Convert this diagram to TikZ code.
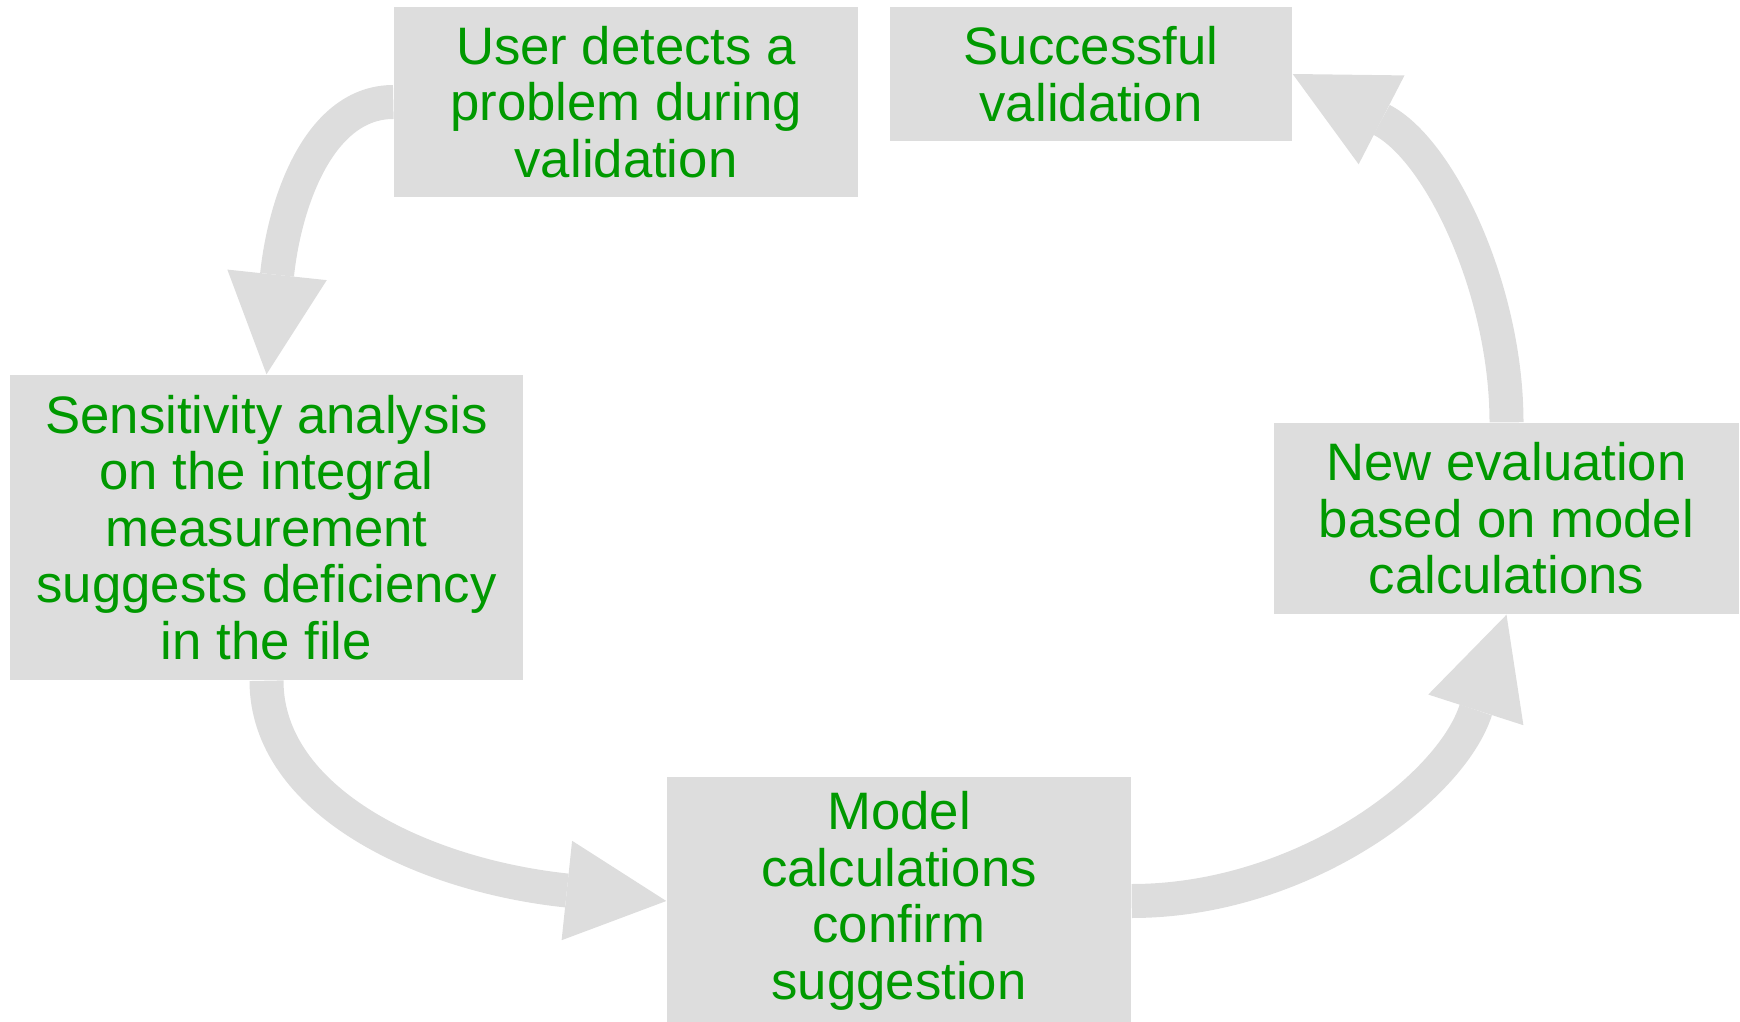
\documentclass[tikz,border=0pt]{standalone}
\usepackage{fontspec}
\setmainfont{Liberation Sans}
\usetikzlibrary{arrows.meta}
\definecolor{boxgrey}{HTML}{DDDDDD}
\definecolor{stepgreen}{HTML}{009900}

\begin{document}
\begin{tikzpicture}[
  box/.style={fill=boxgrey, text=stepgreen, align=center, inner sep=0pt,
    font=\fontsize{15}{16.1}\selectfont},
  flow/.style={draw=boxgrey, line width=3.4mm,
    -{Triangle[length=10mm, width=10mm, line width=0pt]}}
]
\useasboundingbox (0,0) rectangle (17.4,10.21);

% Steps of the loop
\node[box, minimum width=4.64cm, minimum height=1.90cm] (problem) at (6.26,9.19)
{User detects a\\problem during\\validation};

\node[box, minimum width=4.02cm, minimum height=1.34cm] (success) at (10.91,9.47)
{Successful\\validation};

\node[box, minimum width=5.13cm, minimum height=3.05cm] (sens) at (2.665,4.935)
{Sensitivity analysis\\on the integral\\measurement\\suggests deficiency\\in the file};

\node[box, minimum width=4.64cm, minimum height=2.48cm] (model) at (8.99,1.20)
{Model\\calculations\\confirm\\suggestion};

\node[box, minimum width=4.65cm, minimum height=1.91cm] (neweval) at (15.065,5.025)
{New evaluation\\based on model\\calculations};

% Arrows between steps
\draw[flow] (problem.west) .. controls (3.20,9.19) and (2.85,8.21) .. (sens.north);
\draw[flow] (sens.south) .. controls (2.665,2.21) and (4.20,1.46) .. (model.west);
\draw[flow] (model.east) .. controls (13.00,1.20) and (14.50,2.31) .. (neweval.south);
\draw[flow] (neweval.north) .. controls (15.065,7.31) and (14.40,8.71) .. (success.east);
\end{tikzpicture}
\end{document}
